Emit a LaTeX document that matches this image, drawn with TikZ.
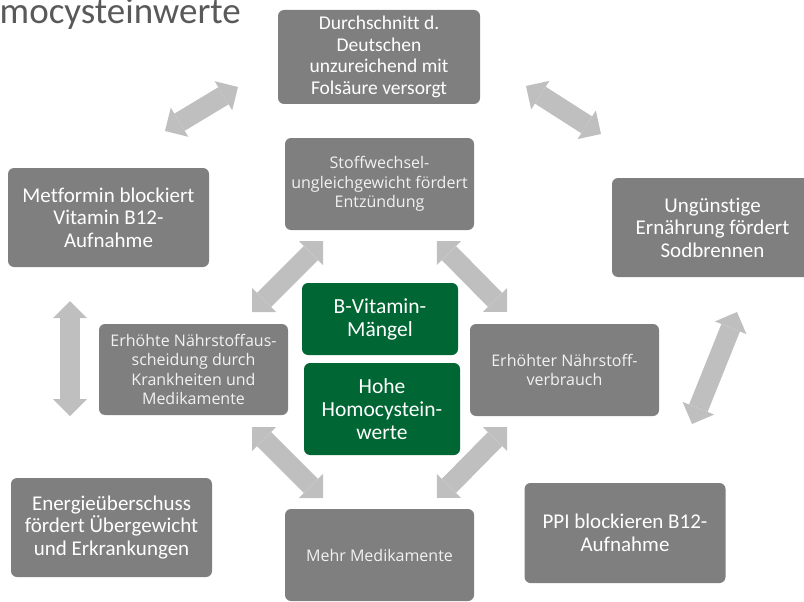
\documentclass[tikz,border=0pt]{standalone}
\usepackage{fontspec}
\setmainfont{Carlito}[Ligatures=NoCommon]
\newfontfamily\opensans{Open Sans}
\usetikzlibrary{arrows.meta}
\definecolor{kastengrau}{HTML}{7F7F7F}
\definecolor{gruen}{HTML}{006633}
\definecolor{pfeilgrau}{HTML}{BFBFBF}
\definecolor{titelgrau}{HTML}{595959}
\definecolor{hellweiss}{HTML}{F2F2F2}
\tikzset{
	aussen/.style={fill=kastengrau, rounded corners=6pt, text=white, align=center, inner sep=0pt,
		minimum width=201pt, minimum height=99pt, font=\fontsize{21}{22.5}\selectfont},
	innen/.style={fill=kastengrau, rounded corners=6pt, text=hellweiss, align=center, inner sep=0pt,
		minimum width=189pt, minimum height=92pt, font=\opensans\fontsize{16}{19.5}\selectfont},
	kern/.style={fill=gruen, rounded corners=6pt, text=white, align=center, inner sep=0pt,
		minimum width=156pt, font=\fontsize{21.5}{23}\selectfont},
	doppelpfeil/.style={draw=pfeilgrau, line width=20pt,
		{Triangle[length=17pt,width=34pt,line width=0pt]}-{Triangle[length=17pt,width=34pt,line width=0pt]}}
}
\begin{document}
\begin{tikzpicture}[x=1pt,y=-1pt]
	\useasboundingbox (0,0) rectangle (804,602);
	\clip (0,0) rectangle (804,602);
	\node [anchor=base east, text=titelgrau, inner sep=0pt, font=\fontsize{37}{44}\selectfont] (titel) at (241,24) {Homocysteinwerte};
	% aeussere Kaesten
	\node [aussen, minimum width=202pt, minimum height=94pt, font=\fontsize{19.5}{21.5}\selectfont] (folsaeure) at (379,57) {Durchschnitt d.\\Deutschen\\unzureichend mit\\Folsäure versorgt};
	\node [aussen] (metformin) at (108.5,217.5) {Metformin blockiert\\Vitamin B12-\\Aufnahme};
	\node [aussen] (ernaehrung) at (712.5,227.5) {Ungünstige\\Ernährung fördert\\Sodbrennen};
	\node [aussen] (energie) at (111.5,527.5) {Energieüberschuss\\fördert Übergewicht\\und Erkrankungen};
	\node [aussen, minimum height=100pt] (ppi) at (625,533) {PPI blockieren B12-\\Aufnahme};
	% innere Kaesten
	\node [innen] (stoffwechsel) at (379.5,184) {Stoffwechsel-\\ungleichgewicht fördert\\Entzündung};
	\node [innen, minimum height=91pt] (ausscheidung) at (193.5,369.5) {Erhöhte Nährstoffaus-\\scheidung durch\\Krankheiten und\\Medikamente};
	\node [innen] (verbrauch) at (564.5,370) {Erhöhter Nährstoff-\\verbrauch};
	\node [innen] (medikamente) at (379.5,555) {Mehr Medikamente};
	% Mitte
	\node [kern, minimum height=72pt] (mangel) at (380,319) {B-Vitamin-\\Mängel};
	\node [kern, minimum height=92pt] (homocystein) at (382,409) {Hohe\\Homocystein-\\werte};
	% Pfeilenden
	\coordinate (p1a) at (165,131);
	\coordinate (p1b) at (238,87);
	\coordinate (p2a) at (526,86);
	\coordinate (p2b) at (601,134);
	\coordinate (p3a) at (70,301);
	\coordinate (p3b) at (70,416);
	\coordinate (p4a) at (692,424);
	\coordinate (p4b) at (737,312);
	\coordinate (p5a) at (323,241);
	\coordinate (p5b) at (252,312);
	\coordinate (p6a) at (437,241);
	\coordinate (p6b) at (507,312);
	\coordinate (p7a) at (252,427);
	\coordinate (p7b) at (323,498);
	\coordinate (p8a) at (507,427);
	\coordinate (p8b) at (437,498);
	\foreach \i in {1,...,8}
		\draw [doppelpfeil] (p\i a) -- (p\i b);
\end{tikzpicture}
\end{document}
